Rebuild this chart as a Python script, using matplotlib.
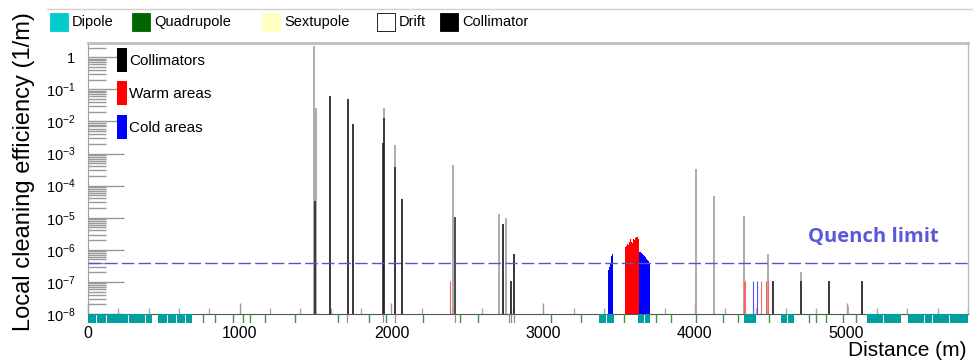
import numpy as np
import matplotlib
matplotlib.use("Agg")
import matplotlib.pyplot as plt
from matplotlib.patches import Rectangle
from matplotlib.ticker import FixedLocator, FuncFormatter, LogLocator, NullFormatter, MultipleLocator

plt.rcParams['font.family'] = ['Liberation Sans', 'DejaVu Sans']
plt.rcParams['mathtext.fontset'] = 'custom'
plt.rcParams['mathtext.rm'] = 'Liberation Sans'
plt.rcParams['mathtext.it'] = 'Liberation Sans:italic'

# ---------------- data ----------------
# collimator losses: light envelope (thin bins)
coll_pos = [1487, 1503, 1593, 1713, 1745, 1949, 2023, 2068, 2407, 2711, 2733, 2752,
            2790, 2807, 4010, 4128, 4326, 4484, 4512, 4700, 4882, 5007, 5102]
coll_val = [2.2, 0.026, 0.062, 0.050, 8.3e-3, 0.026, 1.9e-3, 3.8e-5, 4.4e-4, 1.3e-5, 6.3e-6, 9.8e-6,
            1.07e-7, 7.4e-7, 3.4e-4, 4.8e-5, 1.1e-5, 7.4e-7, 1.07e-7, 2.0e-7, 1.07e-7, 1.8e-8, 1.07e-7]
# collimator losses: dense (dark) core
core_pos = [1495, 1593, 1713, 1745, 1947, 1950, 2023, 2068, 2420, 2733, 2790, 2807, 4512, 4700, 4882, 5102]
core_val = [3.3e-5, 0.062, 0.050, 8.3e-3, 2.1e-3, 0.013, 3.8e-4, 3.8e-5, 1.05e-5, 6.3e-6, 1.07e-7, 7.4e-7,
            1.07e-7, 1.07e-7, 1.07e-7, 1.07e-7]

# isolated warm / cold losses
warm_pos = [2385, 4326, 4333, 4435, 4469, 4480]
warm_val = [1.07e-7, 1.07e-7, 1.07e-7, 1.07e-7, 1.07e-7, 1.07e-7]
cold_pos = [4380, 4407]
cold_val = [1.07e-7, 1.07e-7]

# loss histograms (5 m bins)
cold1_edges = [3430, 3435, 3440, 3445, 3450, 3455, 3460]
cold1_val = [2.3e-7, 3.0e-7, 3.5e-7, 4.5e-7, 6.5e-7, 7.4e-7]
warm_edges = list(range(3540, 3631, 5))
warm_val_h = [1.2e-6, 1.3e-6, 1.4e-6, 1.5e-6, 1.45e-6, 1.7e-6, 1.9e-6, 2.1e-6, 1.8e-6, 1.6e-6,
              1.9e-6, 2.2e-6, 2.0e-6, 2.3e-6, 2.1e-6, 2.5e-6, 2.6e-6, 2.2e-6]
cold2_edges = list(range(3630, 3706, 5))
cold2_val = [8.7e-7, 9.2e-7, 8.5e-7, 8.0e-7, 7.6e-7, 7.9e-7, 7.0e-7, 6.4e-7, 5.8e-7, 5.5e-7,
             5.0e-7, 4.8e-7, 4.5e-7, 4.3e-7, 4.0e-7]

quench_limit = 3.9e-7

# lattice elements
dipole_start = [0, 60, 125, 200, 270, 325, 380, 460, 525, 585, 645,
                3369, 3420, 3626, 3668, 4326, 4366, 4568, 4612,
                5135, 5190, 5245, 5300, 5404, 5460, 5515, 5570, 5625, 5680, 5735]
dipole_end = [55, 120, 195, 265, 320, 375, 420, 520, 580, 640, 688,
              3416, 3464, 3665, 3705, 4362, 4403, 4608, 4656,
              5186, 5241, 5296, 5359, 5456, 5511, 5566, 5621, 5676, 5731, 5800]
quad_pos = [755, 838, 955, 1020, 1065, 1168, 1366, 1648, 1851, 1967, 2209, 2451, 2572,
            3050, 3252, 3534, 3743, 3842, 4010, 4183, 4281, 4491, 4755, 4799, 4865, 4977, 5065]
collim_elem_pos = [1707, 1945, 2022, 2418, 2775, 2790, 2807]

x_ticks = [0, 1000, 2000, 3000, 4000, 5000]
y_exps = [0, -1, -2, -3, -4, -5, -6, -7, -8]

lattice_legend = ["Dipole", "Quadrupole", "Sextupole", "Drift", "Collimator"]
loss_legend = ["Collimators", "Warm areas", "Cold areas"]

# ---------------- figure ----------------
W, H = 973, 360
fig = plt.figure(figsize=(W / 100, H / 100), dpi=100)

def fx(x):
    return x / W

def fy(y):
    return 1 - y / H

L, R, T, B = 88, 968, 43, 314
ax = fig.add_axes([fx(L), fy(B), (R - L) / W, (B - T) / H])
ax.set_yscale('log')
ax.set_xlim(0, 5800)
ax.set_ylim(1e-8, 10 ** 0.445)

# bars
ax.vlines(coll_pos, 1e-8, coll_val, colors='#a6a6a6', lw=1.3, zorder=2)
ax.vlines(core_pos, 1e-8, core_val, colors='#1a1a1a', lw=1.1, zorder=3)
ax.vlines(warm_pos, 1e-8, warm_val, colors='#ff6060', lw=0.8, zorder=2)
ax.vlines(cold_pos, 1e-8, cold_val, colors='#5050ff', lw=0.8, zorder=2)

def hist(edges, vals, color):
    e = np.asarray(edges, float)
    v = np.asarray(vals, float)
    ax.stairs(v, e, baseline=1e-8, fill=True, color=color, lw=0, zorder=3)

hist(cold1_edges, cold1_val, '#0000ff')
hist(warm_edges, warm_val_h, '#ff0000')
hist(cold2_edges, cold2_val, '#0000ff')

ax.axhline(quench_limit, color='#5555cc', lw=1.0, dashes=(9, 3), zorder=4)
ax.text(fx(808), fy(237), "Quench limit", transform=fig.transFigure, fontsize=14.5,
        fontweight='bold', color='#5a5ad8', family=['Open Sans', 'DejaVu Sans'],
        va='center', ha='left')

# axes styling
for s in ['top', 'right']:
    ax.spines[s].set_color('#bdbdbd')
ax.spines['top'].set_linewidth(2.0)
ax.spines['right'].set_linewidth(1.0)
ax.spines['left'].set_color('#a0a0a0')
ax.spines['bottom'].set_color('#555555')

ax.xaxis.set_major_locator(FixedLocator(x_ticks))
ax.xaxis.set_minor_locator(MultipleLocator(200))
ax.tick_params(axis='x', which='major', direction='in', length=8, width=1, color='#999999',
               labelsize=11.5, pad=9)
ax.tick_params(axis='x', which='minor', direction='in', length=4, width=1, color='#aaaaaa')

ax.yaxis.set_major_locator(FixedLocator([10.0 ** e for e in y_exps]))
ax.yaxis.set_minor_locator(LogLocator(base=10, subs=np.arange(2, 10), numticks=20))
ax.yaxis.set_minor_formatter(NullFormatter())

def yfmt(v, pos):
    e = int(round(np.log10(v)))
    return '1' if e == 0 else r'$10^{%d}$' % e

ax.yaxis.set_major_formatter(FuncFormatter(yfmt))
ax.tick_params(axis='y', which='major', direction='in', length=26, width=1, color='#999999',
               labelsize=10.5, pad=9)
ax.tick_params(axis='y', which='minor', direction='in', length=13, width=1, color='#999999')

fig.text(fx(24), fy(172), "Local cleaning efficiency (1/m)", rotation=90, fontsize=17,
         va='center', ha='center')
fig.text(fx(967), fy(350), "Distance (m)", fontsize=15, va='center', ha='right')

# lattice band
lat = fig.add_axes([fx(L), fy(323), (R - L) / W, 9 / H], sharex=ax)
lat.set_ylim(0, 1)
lat.axis('off')
for s0, s1 in zip(dipole_start, dipole_end):
    lat.add_patch(Rectangle((s0, 0), s1 - s0, 1, facecolor='#00a0a0', edgecolor='none'))
lat.vlines(quad_pos, 0, 1, colors='#3a9a3a', lw=1.0)
lat.vlines(collim_elem_pos, 0, 1, colors='#909090', lw=0.9)

# top legend
fig.add_artist(plt.Line2D([fx(47), fx(973)], [fy(9), fy(9)], color='#d0d0d0', lw=1.0))
leg_x = [50, 132, 262, 377, 440]
leg_fc = ['#00cccc', '#006600', '#ffffc0', '#ffffff', '#000000']
for x0, fc, lab in zip(leg_x, leg_fc, lattice_legend):
    fig.add_artist(Rectangle((fx(x0), fy(31)), 18 / W, 18 / H, transform=fig.transFigure,
                             facecolor=fc, edgecolor='#000000' if lab == 'Drift' else fc, lw=0.6))
    fig.text(fx(x0 + 22), fy(22), lab, fontsize=10.5,
             family=['Liberation Sans Narrow', 'Liberation Sans'], va='center', ha='left')

# inner legend
inner_y = [48, 81, 115]
inner_c = ['#000000', '#ff0000', '#0000ff']
for y0, c, lab in zip(inner_y, inner_c, loss_legend):
    fig.add_artist(Rectangle((fx(117), fy(y0 + 24)), 10 / W, 24 / H, transform=fig.transFigure,
                             facecolor=c, edgecolor='none'))
    fig.text(fx(129), fy(y0 + 13), lab, fontsize=11, va='center', ha='left')

fig.savefig('out.png', dpi=100)
